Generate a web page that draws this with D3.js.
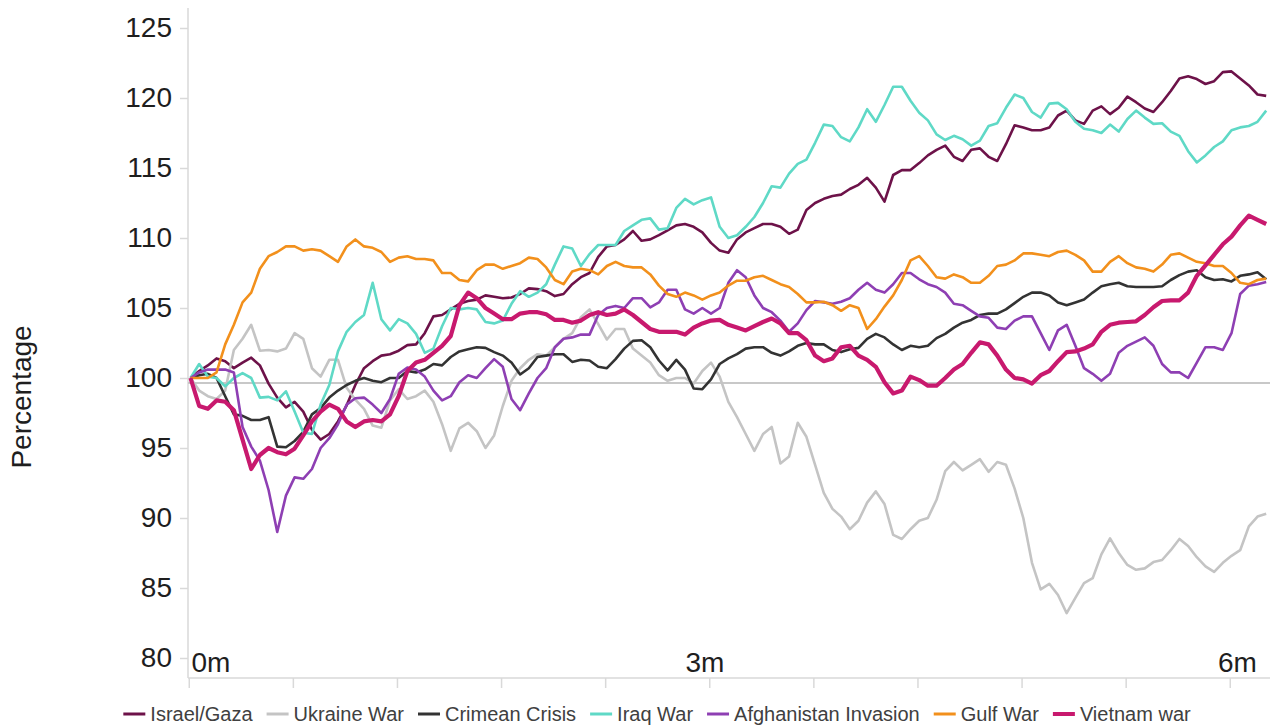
<!DOCTYPE html>
<html><head>
<meta charset="utf-8">
<title>Percentage</title>
<style>
  body {margin: 0; background: #fff;}
  svg text {font-family: "Liberation Sans", Arial, sans-serif;}
</style>
</head>
<body>
<script src="https://d3js.org/d3.v7.min.js"></script>
<script>
    // values per trading day, index 0 = start of the conflict
    var seriesNames = ["Israel/Gaza", "Ukraine War", "Crimean Crisis", "Iraq War", "Afghanistan Invasion", "Gulf War", "Vietnam war"];

    var israelGaza = [100.0,100.5,100.9,101.4,101.2,100.7,101.1,101.45,100.9,99.6,
        98.6,97.9,98.3,97.6,96.3,95.6,96.0,96.9,98.05,99.5,
        100.7,101.2,101.6,101.7,101.95,102.35,102.4,103.2,104.4,104.5,
        104.9,105.3,105.5,105.6,105.9,105.8,105.7,105.75,106.0,106.4,
        106.35,106.2,105.85,106.0,106.7,107.2,107.5,108.65,109.4,109.5,
        109.9,110.5,109.8,109.9,110.2,110.55,110.9,111.0,110.8,110.4,
        109.65,109.1,108.95,109.9,110.4,110.7,111.0,111.0,110.8,110.3,
        110.6,112.0,112.5,112.8,113.0,113.1,113.5,113.8,114.3,113.6,
        112.6,114.5,114.85,114.85,115.35,115.9,116.3,116.6,115.8,115.5,
        116.3,116.4,115.8,115.5,116.7,118.05,117.9,117.7,117.7,117.9,
        118.75,119.1,118.4,118.15,119.1,119.4,118.85,119.3,120.1,119.7,
        119.25,119.0,119.7,120.5,121.4,121.55,121.35,121.0,121.2,121.85,
        121.9,121.4,120.9,120.25,120.15];

    var ukraineWar = [100.0,99.1,98.7,98.5,99.1,102.0,102.8,103.8,101.95,102.0,
        101.9,102.1,103.2,102.8,100.7,100.1,101.3,101.3,99.3,98.45,
        97.8,96.6,96.45,98.4,99.2,98.5,98.7,99.1,98.3,96.7,
        94.8,96.4,96.8,96.2,95.0,95.9,98.0,99.8,100.7,101.3,
        101.7,101.6,102.2,102.8,103.2,104.35,104.9,103.85,102.75,103.5,
        103.5,102.1,101.6,101.1,100.2,99.8,100.0,100.0,99.6,100.5,
        101.1,100.1,98.3,97.2,96.0,94.8,96.0,96.5,93.9,94.4,
        96.8,95.8,93.8,91.8,90.65,90.1,89.2,89.8,91.1,91.9,
        91.0,88.8,88.5,89.2,89.8,90.0,91.3,93.35,94.0,93.4,
        93.8,94.2,93.3,94.0,93.8,92.1,90.0,86.8,84.9,85.3,
        84.5,83.2,84.3,85.35,85.7,87.4,88.55,87.5,86.65,86.3,
        86.4,86.85,87.0,87.7,88.5,88.0,87.2,86.55,86.15,86.8,
        87.3,87.7,89.4,90.1,90.3];

    var crimeanCrisis = [100.0,100.2,100.3,100.0,98.7,97.4,97.3,97.0,97.0,97.2,
        95.1,95.05,95.5,96.15,97.4,97.85,98.6,99.1,99.5,99.8,
        100.0,99.8,99.7,100.0,100.0,100.5,100.4,100.6,101.0,100.9,
        101.5,101.9,102.05,102.2,102.15,101.85,101.6,101.1,100.25,100.7,
        101.5,101.6,101.7,101.7,101.15,101.3,101.25,100.8,100.7,101.35,
        102.1,102.65,102.7,102.2,101.25,100.55,101.3,100.6,99.25,99.2,
        99.9,101.0,101.4,101.7,102.1,102.2,102.2,101.8,101.6,101.9,
        102.3,102.5,102.4,102.4,102.0,101.85,102.05,102.15,102.8,103.15,
        102.9,102.4,102.0,102.3,102.2,102.3,102.85,103.15,103.6,103.95,
        104.15,104.5,104.6,104.6,104.9,105.35,105.8,106.1,106.1,105.9,
        105.4,105.2,105.4,105.6,106.1,106.55,106.7,106.8,106.55,106.5,
        106.5,106.5,106.55,107.0,107.35,107.6,107.7,107.2,107.0,107.05,
        106.9,107.3,107.4,107.55,107.05];

    var iraqWar = [100.0,101.0,100.1,100.0,99.4,100.0,100.35,100.0,98.6,98.65,
        98.4,99.05,97.6,96.1,96.0,98.1,99.5,101.9,103.3,104.0,
        104.5,106.8,104.2,103.4,104.2,103.9,103.15,101.8,102.1,103.7,
        105.0,104.9,105.0,104.9,104.0,103.9,104.1,105.3,106.2,105.8,
        106.1,106.7,108.1,109.4,109.25,108.0,108.85,109.5,109.5,109.5,
        110.5,110.9,111.3,111.4,110.6,110.7,112.15,112.8,112.4,112.7,
        112.9,110.8,110.0,110.2,110.8,111.5,112.5,113.7,113.6,114.6,
        115.3,115.6,116.8,118.1,118.0,117.2,116.9,117.9,119.2,118.3,
        119.5,120.8,120.8,119.8,118.95,118.4,117.4,117.0,117.3,117.05,
        116.6,116.95,118.0,118.2,119.3,120.25,120.0,119.0,118.6,119.6,
        119.65,119.2,118.3,117.8,117.7,117.5,118.1,117.6,118.5,119.1,
        118.6,118.15,118.2,117.6,117.3,116.2,115.4,115.9,116.5,116.9,
        117.7,117.9,118.0,118.3,119.1];

    var afghanistanInvasion = [100.0,100.4,100.6,100.6,100.6,100.4,96.5,95.1,94.1,92.0,
        89.0,91.6,92.9,92.8,93.5,95.0,95.7,96.7,98.1,98.55,
        98.6,98.1,97.5,98.5,100.3,100.75,100.6,100.1,99.1,98.4,
        98.7,99.7,100.2,100.0,100.7,101.35,100.8,98.5,97.7,98.9,
        100.0,100.7,102.2,102.8,102.9,103.1,103.1,104.5,105.0,105.15,
        105.0,105.7,105.7,105.05,105.4,106.3,106.3,104.9,104.6,105.0,
        104.6,105.0,106.8,107.7,107.2,105.9,105.0,104.7,104.1,103.3,
        103.9,104.85,105.5,105.4,105.3,105.45,105.7,106.3,106.8,106.3,
        106.1,106.7,107.5,107.5,107.05,106.7,106.5,106.1,105.3,105.2,
        104.8,104.4,104.3,103.6,103.5,104.1,104.4,104.4,103.2,102.0,
        103.4,103.8,102.3,100.7,100.3,99.8,100.3,101.8,102.3,102.6,
        102.9,102.3,101.0,100.4,100.4,100.0,101.1,102.2,102.2,102.0,
        103.2,106.0,106.6,106.7,106.85];

    var gulfWar = [100.0,100.0,100.0,100.4,102.4,103.8,105.4,106.1,107.8,108.7,
        109.0,109.4,109.4,109.1,109.2,109.1,108.7,108.3,109.4,109.9,
        109.4,109.3,109.0,108.3,108.6,108.7,108.5,108.5,108.4,107.5,
        107.5,107.0,106.9,107.7,108.1,108.1,107.8,108.0,108.2,108.6,
        108.5,107.9,107.0,106.7,107.6,107.8,107.7,107.4,108.0,108.3,
        108.0,107.9,107.9,107.4,106.6,106.0,105.8,106.1,105.9,105.6,
        105.9,106.1,106.6,106.95,106.95,107.2,107.3,107.0,106.7,106.5,
        106.0,105.4,105.4,105.45,105.2,104.8,105.2,105.0,103.5,104.2,
        105.1,105.9,107.0,108.4,108.7,108.0,107.2,107.1,107.4,107.2,
        106.8,106.8,107.3,108.0,108.1,108.4,108.9,108.9,108.8,108.7,
        109.0,109.1,108.8,108.4,107.6,107.6,108.3,108.7,108.2,107.9,
        107.8,107.6,108.1,108.8,108.9,108.6,108.3,108.2,108.0,108.0,
        107.5,106.8,106.7,107.0,107.1];

    var vietnamWar = [100.0,98.0,97.8,98.4,98.3,97.7,95.6,93.5,94.5,95.0,
        94.7,94.55,94.95,95.9,96.9,97.6,98.1,97.8,96.9,96.5,
        96.9,97.0,96.9,97.4,98.7,100.5,101.1,101.3,101.8,102.3,
        103.0,105.2,106.1,105.7,105.0,104.6,104.2,104.2,104.6,104.7,
        104.7,104.55,104.15,104.15,103.95,104.1,104.5,104.7,104.5,104.6,
        104.9,104.5,104.0,103.5,103.3,103.3,103.3,103.1,103.6,103.9,
        104.1,104.15,103.8,103.6,103.4,103.7,104.0,104.25,103.9,103.2,
        103.2,102.7,101.6,101.2,101.4,102.2,102.3,101.6,101.3,100.8,
        99.7,98.9,99.1,100.1,99.85,99.45,99.45,100.0,100.6,101.0,
        101.8,102.55,102.4,101.6,100.6,100.0,99.9,99.6,100.2,100.5,
        101.2,101.85,101.9,102.1,102.4,103.3,103.8,103.95,104.0,104.05,
        104.5,105.05,105.5,105.55,105.55,106.1,107.3,108.05,108.8,109.55,
        110.1,110.9,111.6,111.3,111.0];

    var yTicks = [80, 85, 90, 95, 100, 105, 110, 115, 120, 125];
    var monthLabels = ["0m", "3m", "6m"];
    var monthIndex = [0, 60, 120];
    var baseline = 99.65;   // grey reference line just under 100

    var series = [israelGaza, ukraineWar, crimeanCrisis, iraqWar, afghanistanInvasion, gulfWar, vietnamWar];
    var colors = ["#6d1249", "#c4c4c4", "#333333", "#5fd9c6", "#8e3fb3", "#f2901c", "#c8196e"];
    var strokes = [2.6, 2.6, 2.6, 2.6, 2.6, 2.6, 4.2];

    var width = 1270, height = 727;
    var left = 188, bottom = 678;

    var svg = d3.select("body").append("svg")
        .attr("width", width)
        .attr("height", height);

    var x = d3.scaleLinear().domain([0, 124]).range([190.5, 1266.2]);
    var y = d3.scaleLinear().domain([80, 125]).range([658, 28]);

    // y axis
    var yAxis = svg.append("g")
        .attr("transform", "translate(" + left + ",0)")
        .call(d3.axisLeft(y).tickValues(yTicks).tickSize(8).tickPadding(8));
    yAxis.select(".domain").remove();
    yAxis.selectAll(".tick line").attr("stroke", "#d9d9d9").attr("stroke-width", 1.5);
    yAxis.selectAll(".tick text").attr("font-size", 28).attr("fill", "#1e1e1e");

    svg.append("line")
        .attr("x1", left).attr("x2", left)
        .attr("y1", 8).attr("y2", bottom)
        .attr("stroke", "#d9d9d9").attr("stroke-width", 1.5);

    // x axis, ticks sit between trading days
    var xAxis = svg.append("g")
        .attr("transform", "translate(0," + bottom + ")")
        .call(d3.axisBottom(x).tickValues(d3.range(-0.2, 125, 12)).tickSize(10).tickFormat(""));
    xAxis.select(".domain").remove();
    xAxis.selectAll(".tick line").attr("stroke", "#d9d9d9").attr("stroke-width", 1.5);

    svg.append("line")
        .attr("x1", left).attr("x2", width)
        .attr("y1", bottom).attr("y2", bottom)
        .attr("stroke", "#d9d9d9").attr("stroke-width", 1.5);

    // month labels sit just above the axis; first one starts at the axis
    svg.selectAll(".month")
        .data(monthLabels)
        .enter()
        .append("text")
        .attr("class", "month")
        .attr("x", function(d, i) { return x(monthIndex[i]); })
        .attr("dx", function(d, i) { return i == 0 ? 1 : (i == 1 ? -6 : 6); })
        .attr("y", bottom - 6)
        .attr("text-anchor", function(d, i) { return i == 0 ? "start" : "middle"; })
        .attr("font-size", 28)
        .attr("fill", "#1e1e1e")
        .text(function(d) { return d; });

    // reference line
    svg.append("line")
        .attr("x1", left).attr("x2", width)
        .attr("y1", y(baseline)).attr("y2", y(baseline))
        .attr("stroke", "#c8c8c8").attr("stroke-width", 2);

    var line = d3.line()
        .x(function(d, i) { return x(i); })
        .y(function(d) { return y(d); });

    svg.selectAll(".series")
        .data(series)
        .enter()
        .append("path")
        .attr("class", "series")
        .attr("fill", "none")
        .attr("stroke", function(d, i) { return colors[i]; })
        .attr("stroke-width", function(d, i) { return strokes[i]; })
        .attr("stroke-linejoin", "round")
        .attr("d", line);

    // y title
    svg.append("text")
        .attr("transform", "translate(31,397) rotate(-90)")
        .attr("text-anchor", "middle")
        .attr("font-size", 28)
        .attr("fill", "#1e1e1e")
        .text("Percentage");

    // legend, centred under the plot
    var legend = svg.append("g");
    var items = legend.selectAll("g")
        .data(seriesNames)
        .enter()
        .append("g");
    items.append("line")
        .attr("x1", 0).attr("x2", 22)
        .attr("y1", 0).attr("y2", 0)
        .attr("stroke", function(d, i) { return colors[i]; })
        .attr("stroke-width", function(d, i) { return i == 6 ? 4 : 3; });
    items.append("text")
        .attr("x", 27)
        .attr("dy", "0.35em")
        .attr("font-size", 20)
        .attr("fill", "#404040")
        .text(function(d) { return d; });

    var pos = 0, gap = 14;
    items.each(function() {
        var w = 27 + this.querySelector("text").getComputedTextLength();
        d3.select(this).attr("transform", "translate(" + pos + ",0)");
        pos += w + gap;
    });
    pos -= gap;
    legend.attr("transform", "translate(" + (657 - pos / 2) + ",714)");
</script>
</body></html>
